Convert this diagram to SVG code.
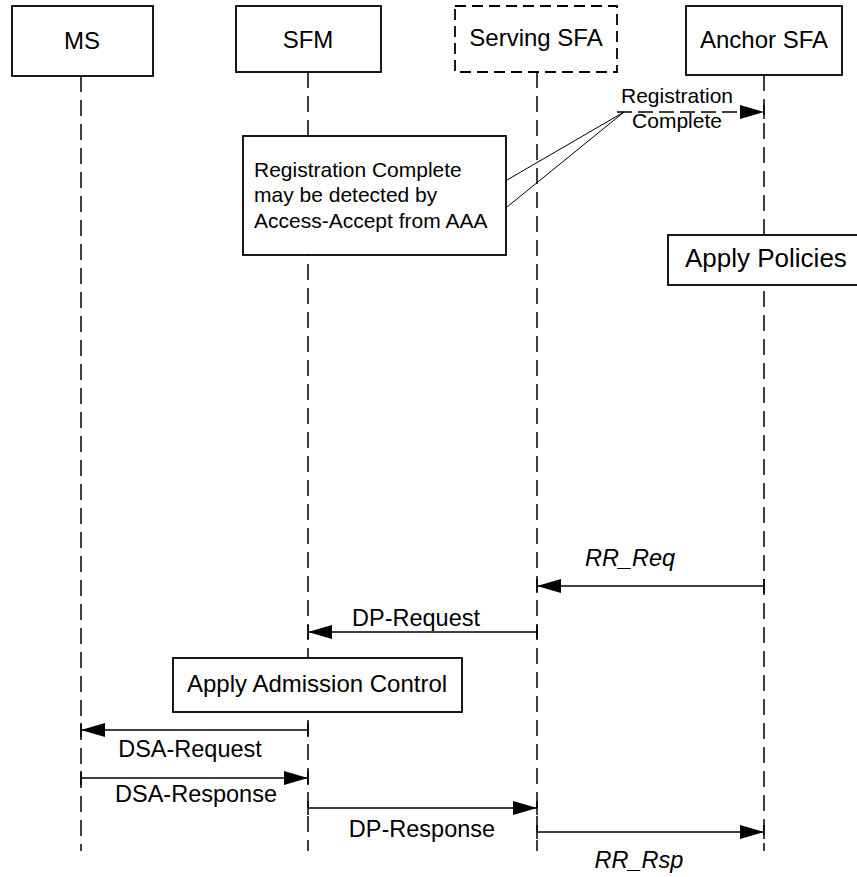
<svg xmlns="http://www.w3.org/2000/svg" width="857" height="877" viewBox="0 0 857 877">
<style>
text{font-family:"Liberation Sans",Arial,sans-serif;fill:#000}
.hdr{font-size:24px;text-anchor:middle}
.lbl{font-size:23.5px;text-anchor:middle}
.it{font-style:italic}
.box{fill:#fff;stroke:#000;stroke-width:1.8}
.dbox{fill:#fff;stroke:#000;stroke-width:1.8;stroke-dasharray:11 6}
.life{stroke:#000;stroke-width:1.5;stroke-dasharray:16 8;fill:none}
.msg{stroke:#000;stroke-width:1.7;fill:none}
.dmsg{stroke:#000;stroke-width:1.7;fill:none;stroke-dasharray:15 6}
.tick{stroke:#000;stroke-width:1.5}
.call{stroke:#000;stroke-width:1;fill:none}
</style>
<defs>
<marker id="ah" viewBox="0 0 24 14" refX="24" refY="7" markerWidth="24" markerHeight="14" markerUnits="userSpaceOnUse" orient="auto">
<path d="M0,0 L24,7 L0,14 Z" fill="#000" stroke="none"/>
</marker>
</defs>
<rect width="857" height="877" fill="#fff"/>
<g id="lifelines">
<line class="life" x1="81" y1="76" x2="81" y2="851"/>
<line class="life" x1="308" y1="72" x2="308" y2="851"/>
<line class="life" x1="537" y1="72" x2="537" y2="851"/>
<line class="life" x1="764" y1="75" x2="764" y2="851"/>
</g>
<g id="ms"><rect class="box" x="12" y="6" width="141" height="70"/><text class="hdr" x="82" y="49">MS</text></g>
<g id="sfm"><rect class="box" x="236" y="6" width="145" height="66"/><text class="hdr" x="308" y="48">SFM</text></g>
<g id="serving"><rect class="dbox" x="455" y="6" width="162" height="66"/><text class="hdr" x="536" y="46">Serving SFA</text></g>
<g id="anchor"><rect class="box" x="686" y="6" width="156" height="69"/><text class="hdr" x="764" y="48">Anchor SFA</text></g>
<g id="note">
<rect class="box" x="243" y="136" width="263" height="119" stroke-width="1.2"/>
<text x="254" y="177" font-size="21">Registration Complete</text>
<text x="254" y="202" font-size="21">may be detected by</text>
<text x="254" y="228" font-size="21">Access-Accept from AAA</text>
</g>
<g id="apply-policies"><rect class="box" x="668" y="235" width="200" height="50"/><text x="685" y="267" font-size="26">Apply Policies</text></g>
<g id="apply-admission"><rect class="box" x="173" y="658" width="289" height="54"/><text x="187" y="692" font-size="24">Apply Admission Control</text></g>
<g id="connectors">
<polyline class="call" points="507,180 624,112 507,207"/>
<line class="dmsg" x1="617" y1="112" x2="764" y2="112" marker-end="url(#ah)"/>
<text x="677" y="103" font-size="21" text-anchor="middle">Registration</text>
<text x="677" y="128" font-size="21" text-anchor="middle">Complete</text>
<line class="msg" x1="764" y1="586" x2="537" y2="586" marker-end="url(#ah)"/>
<text class="lbl it" x="630" y="566">RR_Req</text>
<line class="msg" x1="537" y1="632" x2="308" y2="632" marker-end="url(#ah)"/>
<text class="lbl" x="416" y="626">DP-Request</text>
<line class="msg" x1="308" y1="730" x2="81" y2="730" marker-end="url(#ah)"/>
<text class="lbl" x="190" y="757">DSA-Request</text>
<line class="msg" x1="81" y1="778" x2="308" y2="778" marker-end="url(#ah)"/>
<text class="lbl" x="196" y="802">DSA-Response</text>
<line class="msg" x1="308" y1="808" x2="537" y2="808" marker-end="url(#ah)"/>
<text class="lbl" x="422" y="837">DP-Response</text>
<line class="msg" x1="537" y1="832" x2="764" y2="832" marker-end="url(#ah)"/>
<text class="lbl it" x="639" y="868">RR_Rsp</text>
<g class="tick">
<line x1="764" y1="579" x2="764" y2="593"/><line x1="537" y1="579" x2="537" y2="593"/>
<line x1="537" y1="625" x2="537" y2="639"/><line x1="308" y1="625" x2="308" y2="639"/>
<line x1="308" y1="723" x2="308" y2="737"/><line x1="81" y1="723" x2="81" y2="737"/>
<line x1="81" y1="771" x2="81" y2="785"/><line x1="308" y1="771" x2="308" y2="785"/>
<line x1="308" y1="801" x2="308" y2="815"/><line x1="537" y1="801" x2="537" y2="815"/>
<line x1="537" y1="825" x2="537" y2="839"/><line x1="764" y1="825" x2="764" y2="839"/>
<line x1="764" y1="105" x2="764" y2="119"/>
</g>
</g>
</svg>
